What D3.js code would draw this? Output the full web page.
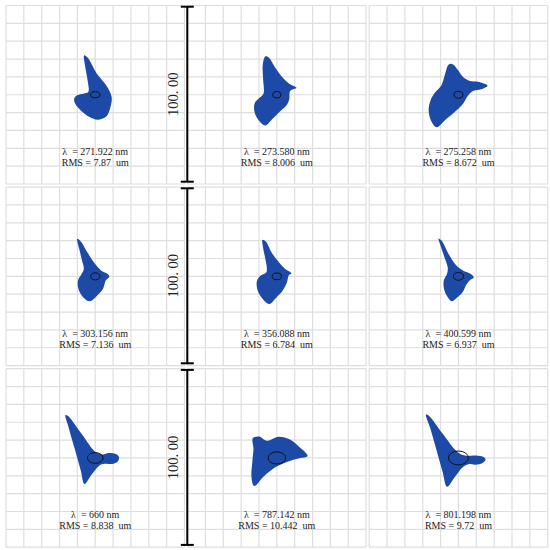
<!DOCTYPE html>
<html lang="en">
<head>
<meta charset="UTF-8">
<title>Spot diagrams</title>
<script src="https://cdn.jsdelivr.net/npm/d3@7"></script>
<style>
    body { margin: 0; background: #fff; }
    svg { display: block; }
    text { font-family: "Liberation Serif", "Times New Roman", serif; white-space: pre; }
</style>
</head>
<body>
<div id="chart"></div>
<script>

    // wavelengths and RMS spot radii, one per panel (row by row)
    const wavelengths = ["271.922", "273.580", "275.258", "303.156", "356.088", "400.599", "660", "787.142", "801.198"];
    const rmsValues = ["7.87", "8.006", "8.672", "7.136", "6.784", "6.937", "8.838", "10.442", "9.72"];

    // Airy disk semi axes (um)
    const airyRx = [2.6, 2.3, 2.5, 2.6, 2.6, 2.9, 4.4, 4.9, 5.6];
    const airyRy = [1.7, 1.8, 1.9, 2.0, 1.9, 2.2, 3.0, 3.4, 3.9];

    // spot outlines (um, relative to chief ray)
    const spot1 = [[-6.2, 22.1], [-4.3, 20.8], [0.9, 11.8], [6.2, 5.2], [9.2, -1.3], [8.4, -7.3], [6.2, -12.2], [1.3, -14.0],
        [-3.2, -12.5], [-8.1, -8.8], [-11.2, -5.1], [-11.8, -2.2], [-9.9, -0.2], [-6.6, 0.6], [-3.9, 1.5], [-4.3, 8.1], [-5.6, 15.5]];
    const spot2 = [[-6.4, 21.5], [-4.5, 20.8], [-1.1, 15.5], [2.6, 10.3], [6.9, 6.2], [11.0, 3.9], [7.5, 2.1], [6.9, -2.8],
        [5.2, -6.2], [1.9, -9.2], [-2.4, -13.5], [-6.4, -17.2], [-10.1, -14.4], [-12.5, -9.7], [-12.4, -4.7], [-9.7, -1.7],
        [-7.5, 0.6], [-7.7, 9.0], [-7.9, 16.5]];
    const spot3 = [[-5.4, 17.0], [-3.0, 17.0], [-0.2, 13.7], [2.6, 9.9], [6.4, 7.7], [11.0, 7.3], [16.3, 5.2], [13.3, 3.2],
        [8.2, 2.1], [5.1, -0.9], [2.6, -5.1], [-2.1, -9.7], [-7.7, -14.4], [-12.2, -18.2], [-15.2, -14.8], [-16.7, -8.8],
        [-15.5, -2.8], [-12.9, 1.5], [-9.6, 5.2], [-7.7, 10.9]];
    const spot4 = [[-10.1, 21.0], [-8.2, 19.7], [-4.1, 12.9], [-0.4, 7.3], [3.4, 3.2], [6.4, 1.7], [7.9, -0.2], [6.0, -2.1],
        [4.5, -6.6], [1.5, -10.3], [-3.0, -14.0], [-6.7, -11.8], [-9.4, -7.1], [-9.7, -2.4], [-7.9, 0.9], [-6.4, 4.1],
        [-7.5, 9.2], [-9.0, 15.4]];
    const spot5 = [[-8.1, 20.4], [-6.2, 19.5], [-3.0, 13.5], [0.7, 8.4], [4.5, 4.3], [8.2, 1.7], [6.7, 0.6], [5.6, -3.6],
        [3.2, -8.1], [-0.6, -12.2], [-4.3, -15.5], [-7.9, -12.7], [-10.7, -8.1], [-11.2, -2.8], [-9.4, 0.2], [-6.0, 2.1],
        [-5.6, 4.7], [-6.7, 11.0], [-7.9, 17.2]];
    const spot6 = [[-11.2, 21.2], [-9.4, 19.9], [-5.6, 12.7], [-1.3, 6.2], [3.0, 3.0], [6.7, 1.5], [8.6, -0.6], [6.7, -1.9],
        [4.5, -4.5], [2.4, -8.8], [-0.4, -11.6], [-3.7, -13.9], [-6.6, -10.7], [-8.2, -6.4], [-8.2, -2.2], [-6.4, 1.5],
        [-6.0, 4.9], [-7.9, 10.9], [-10.1, 17.4]];
    const spot7 = [[-16.7, 24.0], [-15.4, 23.6], [-7.9, 13.9], [0.6, 3.0], [4.3, 2.0], [7.5, 2.8], [11.2, 2.4], [13.3, 0.6],
        [12.6, -2.0], [9.5, -3.4], [6.0, -3.2], [3.0, -3.8], [-2.2, -9.6], [-6.0, -14.6], [-8.2, -6.7], [-11.6, 5.4],
        [-14.8, 16.7]];
    const spot8 = [[-13.5, 11.0], [-9.9, 12.0], [-5.6, 9.6], [0.4, 11.8], [6.4, 10.7], [12.0, 6.7], [17.2, 1.1], [12.5, -0.2],
        [6.0, -2.1], [-0.6, -5.1], [-7.1, -10.1], [-12.7, -15.7], [-14.2, -11.0], [-13.7, -1.7], [-13.1, 5.4]];
    const spot9 = [[-18.2, 24.3], [-16.7, 23.8], [-8.8, 13.5], [-0.4, 3.2], [4.3, 1.2], [8.6, 1.4], [13.1, 0.9], [15.2, -0.8],
        [13.5, -2.8], [9.5, -3.8], [5.6, -3.5], [2.4, -5.2], [-2.2, -10.9], [-6.4, -16.1], [-8.8, -8.1], [-12.5, 5.1],
        [-15.7, 16.3]];
    const spots = [spot1, spot2, spot3, spot4, spot5, spot6, spot7, spot8, spot9];

    const scaleLabel = "100. 00";

    const width = 550;
    const height = 550;
    const panelSize = 178.5;
    const step = 181.6;
    const x0 = 6, y0 = 5.5;

    const svg = d3.select("#chart").append("svg")
        .attr("width", width)
        .attr("height", height)
        .attr("viewBox", [0, 0, width, height]);

    svg.append("rect").attr("width", width).attr("height", height).attr("fill", "#fff");

    spots.forEach((pts, i) => {
        const col = i % 3, row = Math.floor(i / 3);
        const px = x0 + col * step, py = y0 + row * step;
        const x = d3.scaleLinear().domain([-50, 50]).range([px, px + panelSize]);
        const y = d3.scaleLinear().domain([50, -50]).range([py, py + panelSize]);

        const g = svg.append("g");

        g.append("g")
            .selectAll("line.v")
            .data(x.ticks(10))
            .join("line")
            .attr("x1", d => x(d)).attr("x2", d => x(d))
            .attr("y1", py).attr("y2", py + panelSize)
            .attr("stroke", "#dedede")
            .attr("stroke-width", 1.2);

        g.append("g")
            .selectAll("line.h")
            .data(y.ticks(10))
            .join("line")
            .attr("y1", d => y(d)).attr("y2", d => y(d))
            .attr("x1", px).attr("x2", px + panelSize)
            .attr("stroke", "#dedede")
            .attr("stroke-width", 1.2);

        const line = d3.line()
            .x(d => x(d[0]))
            .y(d => y(d[1]))
            .curve(d3.curveCatmullRomClosed.alpha(0.5));

        g.append("path")
            .attr("d", line(pts))
            .attr("fill", "#1d4aa6");

        g.append("ellipse")
            .attr("cx", x(0))
            .attr("cy", y(0))
            .attr("rx", x(airyRx[i]) - x(0))
            .attr("ry", y(0) - y(airyRy[i]))
            .attr("fill", "none")
            .attr("stroke", "#111")
            .attr("stroke-width", 1);

        g.append("text")
            .attr("x", x(0))
            .attr("y", py + 149.5)
            .attr("text-anchor", "middle")
            .attr("font-size", 10)
            .attr("fill", "#222")
            .text(`λ  = ${wavelengths[i]} nm`);

        g.append("text")
            .attr("x", x(0))
            .attr("y", py + 160.5)
            .attr("text-anchor", "middle")
            .attr("font-size", 10)
            .attr("fill", "#222")
            .text(`RMS = ${rmsValues[i]}  um`);
    });

    // scale bars, one per row
    const barX = 187.3;
    [0, 1, 2].forEach(row => {
        const top = y0 + row * step + 1.2;
        const bottom = top + 175;
        const bar = svg.append("g").attr("stroke", "#000").attr("stroke-width", 2);
        bar.append("line").attr("x1", barX).attr("x2", barX).attr("y1", top).attr("y2", bottom);
        bar.append("line").attr("x1", barX - 6.5).attr("x2", barX + 6.5).attr("y1", top).attr("y2", top);
        bar.append("line").attr("x1", barX - 6.5).attr("x2", barX + 6.5).attr("y1", bottom).attr("y2", bottom);

        const cy = (top + bottom) / 2;
        svg.append("text")
            .attr("transform", `translate(178,${cy}) rotate(-90)`)
            .attr("text-anchor", "middle")
            .attr("font-size", 14.5)
            .attr("fill", "#222")
            .text(scaleLabel);
    });

</script>
</body>
</html>
